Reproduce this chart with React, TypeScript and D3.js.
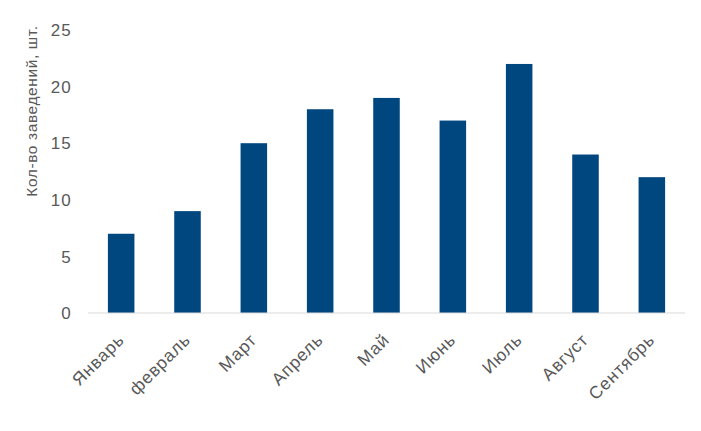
import { useEffect, useRef } from 'react';
import * as d3 from 'd3';

const WIDTH = 701;
const HEIGHT = 431;

const MARGIN = { top: 30, right: 16, bottom: 118, left: 88 };

const months = ['Январь', 'февраль', 'Март', 'Апрель', 'Май', 'Июнь', 'Июль', 'Август', 'Сентябрь'];
const counts = [7, 9, 15, 18, 19, 17, 22, 14, 12];
const yTicks = [0, 5, 10, 15, 20, 25];

const FONT = '"Liberation Sans", Arial, sans-serif';
const TEXT = '#595959';

function App() {
  const svgRef = useRef(null);

  useEffect(() => {
    const svg = d3.select(svgRef.current);
    svg.selectAll('*').remove();

    const x = d3.scaleBand()
      .domain(months)
      .range([MARGIN.left, WIDTH - MARGIN.right])
      .paddingInner(0.6)
      .paddingOuter(0.3);

    const y = d3.scaleLinear()
      .domain([0, 25])
      .range([HEIGHT - MARGIN.bottom, MARGIN.top]);

    svg.append('g')
      .attr('fill', '#00467f')
      .selectAll('rect')
      .data(months.map((m, i) => ({ m, v: counts[i] })))
      .join('rect')
      .attr('x', (d) => x(d.m) || 0)
      .attr('y', (d) => y(d.v))
      .attr('width', x.bandwidth())
      .attr('height', (d) => y(0) - y(d.v));

    // baseline
    svg.append('line')
      .attr('x1', MARGIN.left)
      .attr('x2', WIDTH - MARGIN.right)
      .attr('y1', y(0))
      .attr('y2', y(0))
      .attr('stroke', '#d9d9d9')
      .attr('stroke-width', 1);

    // y tick labels
    svg.append('g')
      .selectAll('text')
      .data(yTicks)
      .join('text')
      .attr('x', 72)
      .attr('y', (d) => y(d))
      .attr('dy', '0.36em')
      .attr('text-anchor', 'end')
      .attr('font-family', FONT)
      .attr('font-size', 17)
      .attr('letter-spacing', 1.2)
      .attr('fill', TEXT)
      .text((d) => d);

    // x labels
    svg.append('g')
      .selectAll('text')
      .data(months)
      .join('text')
      .attr('transform', (d) => `translate(${(x(d) || 0) + x.bandwidth() / 2 + 4},${y(0) + 28}) rotate(-45)`)
      .attr('text-anchor', 'end')
      .attr('font-family', FONT)
      .attr('font-size', 17.5)
      .attr('letter-spacing', 0.8)
      .attr('fill', TEXT)
      .text((d) => d);

    // y title
    svg.append('text')
      .attr('transform', `translate(37,111) rotate(-90)`)
      .attr('text-anchor', 'middle')
      .attr('font-family', FONT)
      .attr('font-size', 15.5)
      .attr('letter-spacing', 0.6)
      .attr('fill', TEXT)
      .text('Кол-во заведений, шт.');
  }, []);

  return (
    <svg
      ref={svgRef}
      width={WIDTH}
      height={HEIGHT}
      style={{ position: 'absolute', left: 0, top: 0, background: '#fff' }}
    />
  );
}

export default App;
